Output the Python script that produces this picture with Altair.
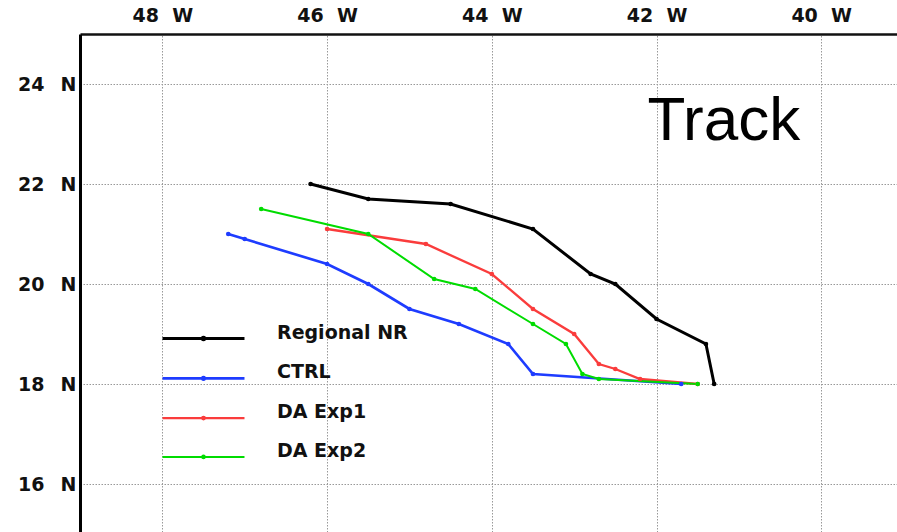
import altair as alt
import pandas as pd

# Storm track experiments: positions every 6 h (degrees west, degrees north)
series_names = ["Regional NR", "CTRL", "DA Exp1", "DA Exp2"]
series_colors = ["#000000", "#1e3cff", "#fa3c3c", "#00dc00"]
series_widths = [3, 2, 2, 2]

nr_lon = [46.2, 45.5, 44.5, 43.5, 42.8, 42.5, 42.0, 41.4, 41.3]
nr_lat = [22.0, 21.7, 21.6, 21.1, 20.2, 20.0, 19.3, 18.8, 18.0]

ctrl_lon = [47.2, 47.0, 46.0, 45.5, 45.0, 44.4, 43.8, 43.5, 41.7]
ctrl_lat = [21.0, 20.9, 20.4, 20.0, 19.5, 19.2, 18.8, 18.2, 18.0]

exp1_lon = [46.0, 44.8, 44.0, 43.5, 43.0, 42.7, 42.5, 42.2, 41.5]
exp1_lat = [21.1, 20.8, 20.2, 19.5, 19.0, 18.4, 18.3, 18.1, 18.0]

exp2_lon = [46.8, 45.5, 44.7, 44.2, 43.5, 43.1, 42.9, 42.7, 41.5]
exp2_lat = [21.5, 21.0, 20.1, 19.9, 19.2, 18.8, 18.2, 18.1, 18.0]

lon_ticks = [48, 46, 44, 42, 40]
lat_ticks = [16, 18, 20, 22, 24]

# map window
lon_west_edge, lon_east_edge = 49.0, 39.08
lat_south_edge, lat_north_edge = 15.04, 25.0

# panel label placed in map coordinates
panel_label = "Track"
panel_label_lon = 42.11
panel_label_lat = 22.88

tracks = [nr_lon, ctrl_lon, exp1_lon, exp2_lon]
lats = [nr_lat, ctrl_lat, exp1_lat, exp2_lat]
rows = []
for name, lons, las in zip(series_names, tracks, lats):
    for step, (lo, la) in enumerate(zip(lons, las)):
        rows.append({"run": name, "step": step, "lon": -lo, "lat": la})
df = pd.DataFrame(rows)

label_df = pd.DataFrame(
    {"text": [panel_label], "lon": [-panel_label_lon], "lat": [panel_label_lat]}
)

FONT = "DejaVu Sans"
FONT_SIZE = 19

x_scale = alt.Scale(domain=[-lon_west_edge, -lon_east_edge], nice=False, zero=False)
y_scale = alt.Scale(domain=[lat_south_edge, lat_north_edge], nice=False, zero=False)

grid_style = dict(grid=True, gridDash=[1.5, 1.5], gridColor="#999999", gridWidth=1)

x_axis = alt.Axis(
    orient="top",
    values=[-v for v in lon_ticks],
    labelExpr="'\u2007' + abs(datum.value) + '\u2002\u2009W'",
    title=None,
    ticks=False,
    domainColor="#111111",
    domainWidth=2.5,
    labelFont=FONT,
    labelFontWeight="bold",
    labelFontSize=FONT_SIZE,
    labelColor="#111111",
    labelPadding=9,
    **grid_style,
)
y_axis = alt.Axis(
    orient="left",
    values=lat_ticks,
    labelExpr="datum.value + ' \u2002N'",
    title=None,
    ticks=False,
    domainColor="#000000",
    domainWidth=3,
    labelFont=FONT,
    labelFontWeight="bold",
    labelFontSize=FONT_SIZE,
    labelColor="#111111",
    labelPadding=4,
    **grid_style,
)

# legend key: a short line with a dot in its middle
legend_symbol = "M-8,0H8M-0.25,0A0.25,0.25,0,1,0,0.25,0A0.25,0.25,0,1,0,-0.25,0Z"

tracks_chart = (
    alt.Chart(df)
    .mark_line(point=alt.OverlayMarkDef(filled=True, size=22, opacity=1))
    .encode(
        x=alt.X("lon:Q", scale=x_scale, axis=x_axis),
        y=alt.Y("lat:Q", scale=y_scale, axis=y_axis),
        color=alt.Color(
            "run:N",
            scale=alt.Scale(domain=series_names, range=series_colors),
            legend=alt.Legend(
                title=None,
                orient="none",
                legendX=114,
                legendY=295,
                padding=0,
                symbolType=legend_symbol,
                symbolSize=105,
                symbolStrokeWidth=2,
                symbolOpacity=1,
                labelOffset=64,
                labelFont=FONT,
                labelFontWeight="bold",
                labelFontSize=FONT_SIZE,
                labelColor="#111111",
                labelBaseline="alphabetic",
                rowPadding=16.8,
            ),
        ),
        strokeWidth=alt.StrokeWidth(
            "run:N",
            scale=alt.Scale(domain=series_names, range=series_widths),
            legend=None,
        ),
        order=alt.Order("step:Q"),
    )
)

label_chart = (
    alt.Chart(label_df)
    .mark_text(
        font="Liberation Sans",
        fontSize=62,
        align="left",
        baseline="alphabetic",
        color="#000000",
    )
    .encode(x=alt.X("lon:Q", scale=x_scale), y=alt.Y("lat:Q", scale=y_scale), text="text:N")
)

chart = (
    alt.layer(tracks_chart, label_chart)
    .properties(
        width=817,
        height=498,
        autosize=alt.AutoSizeParams(type="none"),
        padding={"left": 80, "top": 34, "right": 0, "bottom": 0},
        background="white",
    )
    .configure_view(stroke=None)
)

chart.save("out.html", embed_options={"renderer": "svg", "actions": False})
